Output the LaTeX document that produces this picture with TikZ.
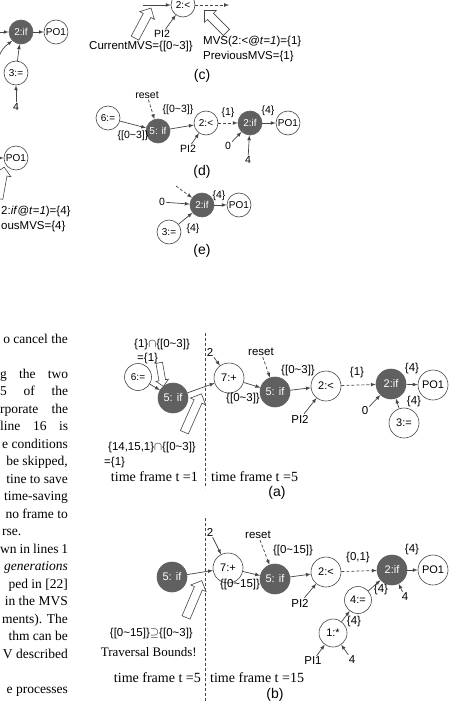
\documentclass[tikz,border=0pt]{standalone}
\usepackage{fontspec}
\setmainfont{Liberation Serif}
\setsansfont{Liberation Sans}
\usepackage{xcolor}
\usetikzlibrary{arrows}
\usetikzlibrary{shapes.arrows}
\definecolor{ngray}{RGB}{96,96,96}
\definecolor{lgray}{RGB}{70,70,70}
\newcommand{\mvr}[2]{\{[#1\textasciitilde#2]\}}

\begin{document}
\begin{tikzpicture}[x=1pt,y=-1pt,
  nd/.style={circle,draw=lgray,line width=0.6pt,minimum size=24pt,inner sep=0pt,font=\fontsize{10}{11}\selectfont\sffamily},
  ndk/.style={nd,fill=ngray,draw=ngray,text=white},
  big/.style={minimum size=30pt,font=\fontsize{11}{12}\selectfont\sffamily},
  lbl/.style={inner sep=1pt,font=\fontsize{10.5}{12}\selectfont\sffamily},
  lblb/.style={inner sep=1pt,font=\fontsize{11.5}{13}\selectfont\sffamily},
  capt/.style={inner sep=0pt,font=\fontsize{14}{16}\selectfont\sffamily},
  tf/.style={inner sep=0pt,font=\fontsize{14}{16}\selectfont\rmfamily},
  body/.style={inner sep=0pt,font=\fontsize{13.5}{16}\selectfont\rmfamily},
  arr/.style={-latex,line width=0.7pt,draw=lgray},
  darr/.style={arr,densely dashed},
  hol/.style={single arrow,draw=lgray,line width=0.6pt,fill=white,inner sep=4pt,
    single arrow head extend=4pt,minimum height=#1},
  hol/.default=32pt,
  tline/.style={densely dashed,line width=0.6pt,draw=lgray}]
\def\R{68}
\def\ls{17.5}

\fill[white] (0,0) rectangle (449,701);
\useasboundingbox (0,0) rectangle (449,701);
\clip (0,0) rectangle (449,701);

%left column: cut figure
\node[ndk] (TLif) at (21,32) {2:if};
\node[nd] (TLpo) at (56,32) {PO1};
\node[nd] (TLas) at (16,73) {3:=};
\node[lbl] (TLfour) at (16,107) {4};
\coordinate (TLin) at (-4,32);
\coordinate (TLcv) at (-3,60);
\draw[arr] (TLin) -- (TLif);
\draw[arr] (TLif) -- (TLpo);
\draw[arr] (TLas) -- (TLif);
\draw[arr] (TLfour) -- (TLas);
\draw[arr] (TLcv) .. controls (3,48) .. (TLif.south west);

\node[nd] (TLpo2) at (16,158) {PO1};
\coordinate (TLin2) at (-4,158);
\draw[arr] (TLin2) -- (TLpo2);
\node[hol=32pt,rotate=80] (TLh) at (1,185) {};
\node[lblb,anchor=west] (TLmvs) at (0,212) {2:\textit{if}@\textit{t}=\textit{1})=\{4\}};
\node[lblb,anchor=west] (TLprev) at (0,227) {ousMVS=\{4\}};

%left column: body text
\node[body,anchor=base east] (L0) at (\R,343) {o cancel the};
\node[body,anchor=base west] (L2) at (0,343+2*\ls) {\makebox[\R pt][s]{g the two}};
\node[body,anchor=base west] (L3) at (0,343+3*\ls) {\makebox[\R pt][s]{5 of the}};
\node[body,anchor=base west] (L4) at (0,343+4*\ls) {\makebox[\R pt][s]{rporate the}};
\node[body,anchor=base west] (L5) at (0,343+5*\ls) {\makebox[\R pt][s]{line 16 is}};
\node[body,anchor=base east] (L6) at (\R,343+6*\ls) {e conditions};
\node[body,anchor=base east] (L7) at (\R,343+7*\ls) {be skipped,};
\node[body,anchor=base east] (L8) at (\R,343+8*\ls) {tine to save};
\node[body,anchor=base east] (L9) at (\R,343+9*\ls) {time-saving};
\node[body,anchor=base east] (L10) at (\R,343+10*\ls) {no frame to};
\node[body,anchor=base west] (L11) at (2,343+11*\ls) {rse.};
\node[body,anchor=base west] (L12) at (0,343+12*\ls) {\makebox[\R pt][s]{wn in lines 1}};
\node[body,anchor=base east] (L13) at (\R,343+13*\ls) {\textit{generations}};
\node[body,anchor=base east] (L14) at (\R,343+14*\ls) {ped in [22]};
\node[body,anchor=base east] (L15) at (\R,343+15*\ls) {in the MVS};
\node[body,anchor=base east] (L16) at (\R,343+16*\ls) {ments). The};
\node[body,anchor=base east] (L17) at (\R,343+17*\ls) {thm can be};
\node[body,anchor=base east] (L18) at (\R,343+18*\ls) {V described};
\node[body,anchor=base east] (L20) at (\R,343+20*\ls) {e processes};

%figure (c)
\node[nd] (C2lt) at (183,5) {2:<};
\coordinate (Cin) at (143,5);
\coordinate (Cout) at (229,5);
\draw[arr] (Cin) -- (C2lt);
\draw[darr] (C2lt) -- (Cout);
\node[lbl] (Cpi) at (162,34) {PI2};
\draw[arr] (Cpi) -- (C2lt);
\node[hol=34pt,rotate=62] (Ch1) at (142,25) {};
\node[lblb,anchor=west] (Ccur) at (88,47) {CurrentMVS=\mvr{0}{3}};
\node[hol=31pt,rotate=135] (Ch2) at (217,23) {};
\node[lblb,anchor=west] (Cmvs) at (202,42) {MVS(2:<@\textit{t}=\textit{1})=\{1\}};
\node[lblb,anchor=west] (Cprev) at (202,57) {PreviousMVS=\{1\}};
\node[capt] (Ccap) at (202,76) {(c)};

%figure (d)
\node[lbl] (Dreset) at (147,95) {reset};
\node[nd] (D6) at (108,118) {6:=};
\node[ndk] (D5) at (158,131) {5: if};
\node[nd] (D2lt) at (206,123) {2:<};
\node[ndk] (D2if) at (250,123) {2:if};
\node[nd] (Dpo) at (288,123) {PO1};
\node[lbl] (Dpi) at (188,149) {PI2};
\node[lbl] (Dzero) at (228,146) {0};
\node[lbl] (Dfour) at (248,160) {4};
\draw[arr] (D6) -- (D5);
\draw[darr] (Dreset) -- (D5);
\draw[arr] (D5) -- (D2lt);
\draw[darr] (D2lt) -- (D2if);
\draw[arr] (D2if) -- (Dpo);
\draw[arr] (Dpi) -- (D2lt);
\draw[arr] (Dzero) -- (D2if);
\draw[arr] (Dfour) -- (D2if);
\node[lbl] (Dr1) at (178,110) {\mvr{0}{3}};
\node[lbl] (Dr2) at (133,136) {\mvr{0}{3}};
\node[lbl] (Dv1) at (228,113) {\{1\}};
\node[lbl] (Dv4) at (268,111) {\{4\}};
\node[capt] (Dcap) at (202,172) {(d)};

%figure (e)
\coordinate (Edash) at (176,186);
\node[lbl] (Ezero) at (162,202) {0};
\node[ndk] (E2if) at (202,205) {2:if};
\node[nd] (Epo) at (239,205) {PO1};
\node[nd] (E3) at (169,232) {3:=};
\draw[darr] (Edash) -- (E2if);
\draw[arr] (Ezero) -- (E2if);
\draw[arr] (E2if) -- (Epo);
\draw[arr] (E3) -- (E2if);
\node[lbl] (Ev1) at (219,196) {\{4\}};
\node[lbl] (Ev2) at (193,229) {\{4\}};
\node[capt] (Ecap) at (202,251) {(e)};

%figure (a): time frame t=1 | t=5
\coordinate (Atop) at (205,333);
\coordinate (Abot) at (205,488);
\draw[tline] (Atop) -- (Abot);
\node[nd,minimum size=27pt] (A6) at (138,377) {6:=};
\node[ndk,big] (A5a) at (173,398) {5: if};
\node[nd,big] (A7) at (229,378) {7:+};
\node[ndk,big] (A5b) at (275,392) {5: if};
\node[nd,big] (A2lt) at (326,386) {2:<};
\node[ndk,big] (A2if) at (391,384) {2:if};
\node[nd,big] (Apo) at (433,385) {PO1};
\node[nd,big] (A3) at (404,423) {3:=};
\node[lblb] (Atwo) at (210,352) {2};
\node[lblb] (Areset) at (261,352) {reset};
\node[lblb] (Ar1) at (298,371) {\mvr{0}{3}};
\node[lblb] (Ar2) at (243,399) {\mvr{0}{3}};
\node[lblb] (Api) at (300,419) {PI2};
\node[lblb] (Av1) at (357,373) {\{1\}};
\node[lblb] (Azero) at (365,411) {0};
\node[lblb] (Av4a) at (412,369) {\{4\}};
\node[lblb] (Av4b) at (414,402) {\{4\}};
\draw[arr] (A6) -- (A5a);
\draw[arr] (A5a) -- (A7);
\draw[arr] (Atwo) -- (A7);
\draw[arr] (A7) -- (A5b);
\draw[darr] (Areset) -- (A5b);
\draw[arr] (A5b) -- (A2lt);
\draw[arr] (Api) -- (A2lt);
\draw[darr] (A2lt) -- (A2if);
\draw[arr] (Azero) -- (A2if);
\draw[arr] (A2if) -- (Apo);
\draw[arr] (A3) -- (A2if);
\node[lblb,anchor=west] (Aset1) at (133,345) {\{1\}$\cap$\mvr{0}{3}};
\node[lblb,anchor=west] (Aeq1) at (136,359) {=\{1\}};
\node[hol=24pt,rotate=-80,inner sep=3pt,single arrow head extend=3pt] (Ah1) at (161,373) {};
\node[hol=42pt,rotate=66] (Ah2) at (192,415) {};
\node[lblb,anchor=east] (Aset2) at (197,448) {\{14,15,1\}$\cap$\mvr{0}{3}};
\node[lblb,anchor=west] (Aeq2) at (103,463) {=\{1\}};
\node[tf,anchor=east] (Atf1) at (198,477) {time frame t =1};
\node[tf,anchor=west] (Atf5) at (211,477) {time frame t =5};
\node[capt] (Acap) at (277,493) {(a)};

%figure (b): time frame t=5 | t=15
\coordinate (Btop) at (205,518);
\coordinate (Bbot) at (205,701);
\draw[tline] (Btop) -- (Bbot);
\node[ndk,big] (B5a) at (172,577) {5: if};
\node[nd,big] (B7) at (228,568) {7:+};
\node[ndk,big] (B5b) at (275,579) {5: if};
\node[nd,big] (B2lt) at (326,572) {2:<};
\node[ndk,big] (B2if) at (392,570) {2:if};
\node[nd,big] (Bpo) at (433,570) {PO1};
\node[nd,big,minimum size=27pt] (B4) at (358,600) {4:=};
\node[nd,big,minimum size=28pt] (B1) at (333,633) {1:*};
\node[lblb] (Btwo) at (210,532) {2};
\node[lblb] (Breset) at (258,535) {reset};
\node[lblb] (Br1) at (293,551) {\mvr{0}{15}};
\node[lblb] (Br2) at (240,585) {\mvr{0}{15}};
\node[lblb] (Bv01) at (358,558) {\{0,1\}};
\node[lblb] (Bv4a) at (412,550) {\{4\}};
\node[lblb] (Bpi2) at (300,603) {PI2};
\node[lblb] (Bv4b) at (381,590) {\{4\}};
\node[lblb] (Bfour1) at (405,597) {4};
\node[lblb] (Bv4c) at (354,622) {\{4\}};
\node[lblb] (Bpi1) at (313,661) {PI1};
\node[lblb] (Bfour2) at (352,660) {4};
\draw[arr] (B5a) -- (B7);
\draw[arr] (Btwo) -- (B7);
\draw[arr] (B7) -- (B5b);
\draw[darr] (Breset) -- (B5b);
\draw[arr] (B5b) -- (B2lt);
\draw[arr] (Bpi2) -- (B2lt);
\draw[darr] (B2lt) -- (B2if);
\draw[arr] (B2if) -- (Bpo);
\draw[arr] (B4) -- (B2if);
\draw[arr] (Bfour1) -- (B2if);
\draw[arr] (B1) -- (B4);
\draw[arr] (Bpi1) -- (B1);
\draw[arr] (Bfour2) -- (B1);
\node[hol=40pt,rotate=67] (Bh) at (193,601) {};
\node[lblb,anchor=east] (Bsup) at (194,634) {\mvr{0}{15}$\supseteq$\mvr{0}{3}};
\node[tf,font=\fontsize{13}{15}\selectfont\rmfamily,anchor=east] (Btrav) at (197,652) {Traversal Bounds!};
\node[tf,anchor=east] (Btf5) at (201,678) {time frame t =5};
\node[tf,anchor=west] (Btf15) at (210,678) {time frame t =15};
\node[capt] (Bcap) at (275,695) {(b)};

\end{tikzpicture}
\end{document}
